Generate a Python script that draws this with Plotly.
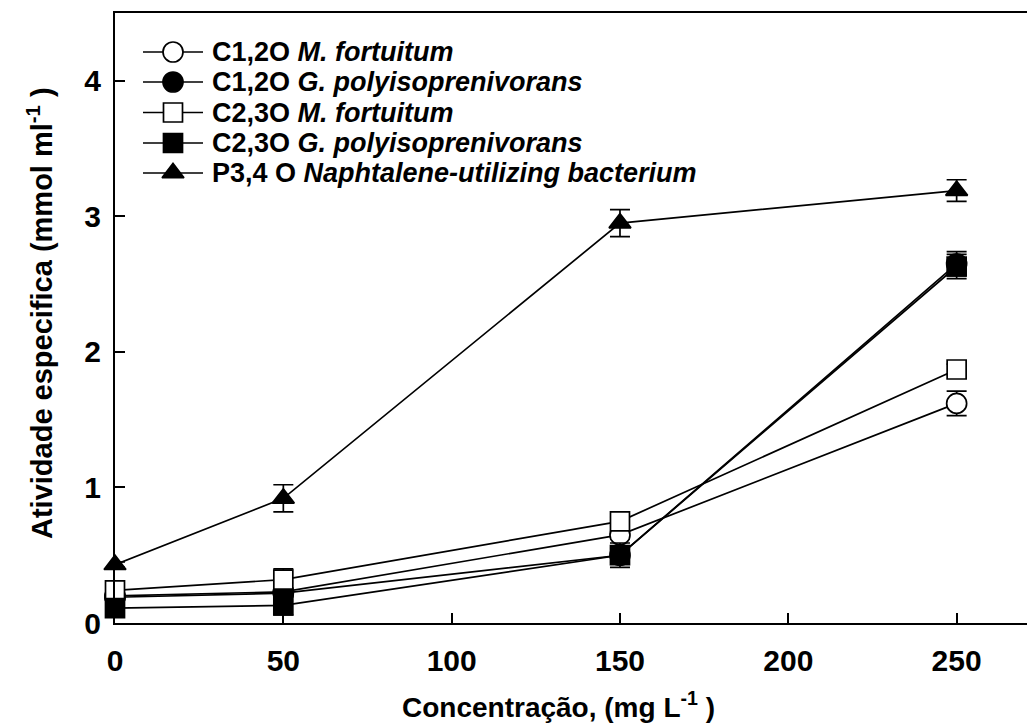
import plotly.graph_objects as go

# Substrate concentration (mg L-1)
conc = [0, 50, 150, 250]

# Specific enzyme activity (mmol ml-1) and standard errors
c12_mfort = [0.20, 0.23, 0.65, 1.62]
c12_mfort_err = [0.02, 0.03, 0.03, 0.09]
c12_gpoly = [0.19, 0.22, 0.50, 2.65]
c12_gpoly_err = [0.02, 0.03, 0.05, 0.09]
c23_mfort = [0.24, 0.32, 0.75, 1.87]
c23_mfort_err = [0.02, 0.08, 0.03, 0.04]
c23_gpoly = [0.11, 0.13, 0.50, 2.63]
c23_gpoly_err = [0.02, 0.07, 0.09, 0.09]
p34_naph = [0.43, 0.92, 2.95, 3.19]
p34_naph_err = [0.02, 0.10, 0.10, 0.08]

series_labels = [
    "C1,2O <i>M. fortuitum</i>",
    "C1,2O <i>G. polyisoprenivorans</i>",
    "C2,3O <i>M. fortuitum</i>",
    "C2,3O <i>G. polyisoprenivorans</i>",
    "P3,4 O <i>Naphtalene-utilizing bacterium</i>",
]

x_ticks = [0, 50, 100, 150, 200, 250]
y_ticks = [0, 1, 2, 3, 4]

FONT = "Liberation Sans, Arial, sans-serif"
W, H = 1027, 724
L, R, T, B = 115, 0, 13, 101

styles = [
    dict(symbol="circle", size=20, fill="white"),
    dict(symbol="circle", size=20, fill="black"),
    dict(symbol="square", size=19, fill="white"),
    dict(symbol="square", size=19, fill="black"),
    dict(symbol="triangle-up", size=19, fill="black"),
]

values = [c12_mfort, c12_gpoly, c23_mfort, c23_gpoly, p34_naph]
errors = [c12_mfort_err, c12_gpoly_err, c23_mfort_err, c23_gpoly_err, p34_naph_err]

fig = go.Figure()

for vals, errs, st in zip(values, errors, styles):
    fig.add_trace(go.Scatter(
        x=conc, y=vals,
        mode="lines+markers",
        line=dict(color="black", width=1.7),
        marker=dict(symbol=st["symbol"], size=st["size"], color=st["fill"],
                    line=dict(color="black", width=1.7)),
        error_y=dict(type="data", array=errs, visible=True,
                     color="black", thickness=1.7, width=10),
        showlegend=False, cliponaxis=False,
    ))

# Hand-drawn key on an overlay axis measured in pixels from the top-left
row_y = [52, 82, 112.5, 143, 173]
for yy, st, lab in zip(row_y, styles, series_labels):
    fig.add_trace(go.Scatter(
        x=[143, 173, 203], y=[yy, yy, yy],
        xaxis="x2", yaxis="y2",
        mode="lines",
        line=dict(color="black", width=1.7),
        showlegend=False, hoverinfo="skip",
    ))
    fig.add_trace(go.Scatter(
        x=[173], y=[yy],
        xaxis="x2", yaxis="y2",
        mode="markers",
        marker=dict(symbol=st["symbol"], size=st["size"], color=st["fill"],
                    line=dict(color="black", width=1.7)),
        showlegend=False, hoverinfo="skip",
    ))
    fig.add_annotation(
        x=210, y=yy, xref="x2", yref="y2",
        text="<b>" + lab + "</b>", showarrow=False,
        xanchor="left", yanchor="middle",
        font=dict(family=FONT, size=27, color="black"),
    )

fig.update_layout(
    width=W, height=H,
    margin=dict(l=L, r=R, t=T, b=B),
    paper_bgcolor="white", plot_bgcolor="white",
    font=dict(family=FONT, color="black"),
    xaxis=dict(
        range=[0, 270.9], tickvals=x_ticks,
        ticks="inside", ticklen=10, tickwidth=1.7, tickcolor="black",
        showline=True, linewidth=2, linecolor="black", mirror=True,
        showgrid=False, zeroline=False,
        tickfont=dict(family=FONT, size=30, color="black", weight="bold"),
        ticklabelstandoff=10,
    ),
    yaxis=dict(
        range=[0, 4.5], tickvals=y_ticks,
        ticks="inside", ticklen=10, tickwidth=1.7, tickcolor="black",
        showline=True, linewidth=2, linecolor="black",
        showgrid=False, zeroline=False,
        tickfont=dict(family=FONT, size=30, color="black", weight="bold"),
        ticklabelstandoff=6,
    ),
    xaxis2=dict(range=[L, W - R], domain=[0, 1], overlaying="x",
                visible=False, fixedrange=True),
    yaxis2=dict(range=[H - B, T], domain=[0, 1], overlaying="y",
                visible=False, fixedrange=True),
)

fig.add_annotation(
    x=(558 - L) / (W - L - R), y=0, xref="paper", yref="paper",
    yshift=-(705 - (H - B)), xanchor="center", yanchor="middle",
    text="<b>Concentração, (mg L<sup>-1</sup> )</b>", showarrow=False,
    font=dict(family=FONT, size=28, color="black"),
)
fig.add_annotation(
    x=0, y=(H - B - 313) / (H - B - T), xref="paper", yref="paper",
    xshift=-(L - 40), xanchor="center", yanchor="middle", textangle=-90,
    text="<b>Atividade especifica (mmol ml<sup>-1</sup> )</b>", showarrow=False,
    font=dict(family=FONT, size=29, color="black"),
)

fig.write_html("out.html")
